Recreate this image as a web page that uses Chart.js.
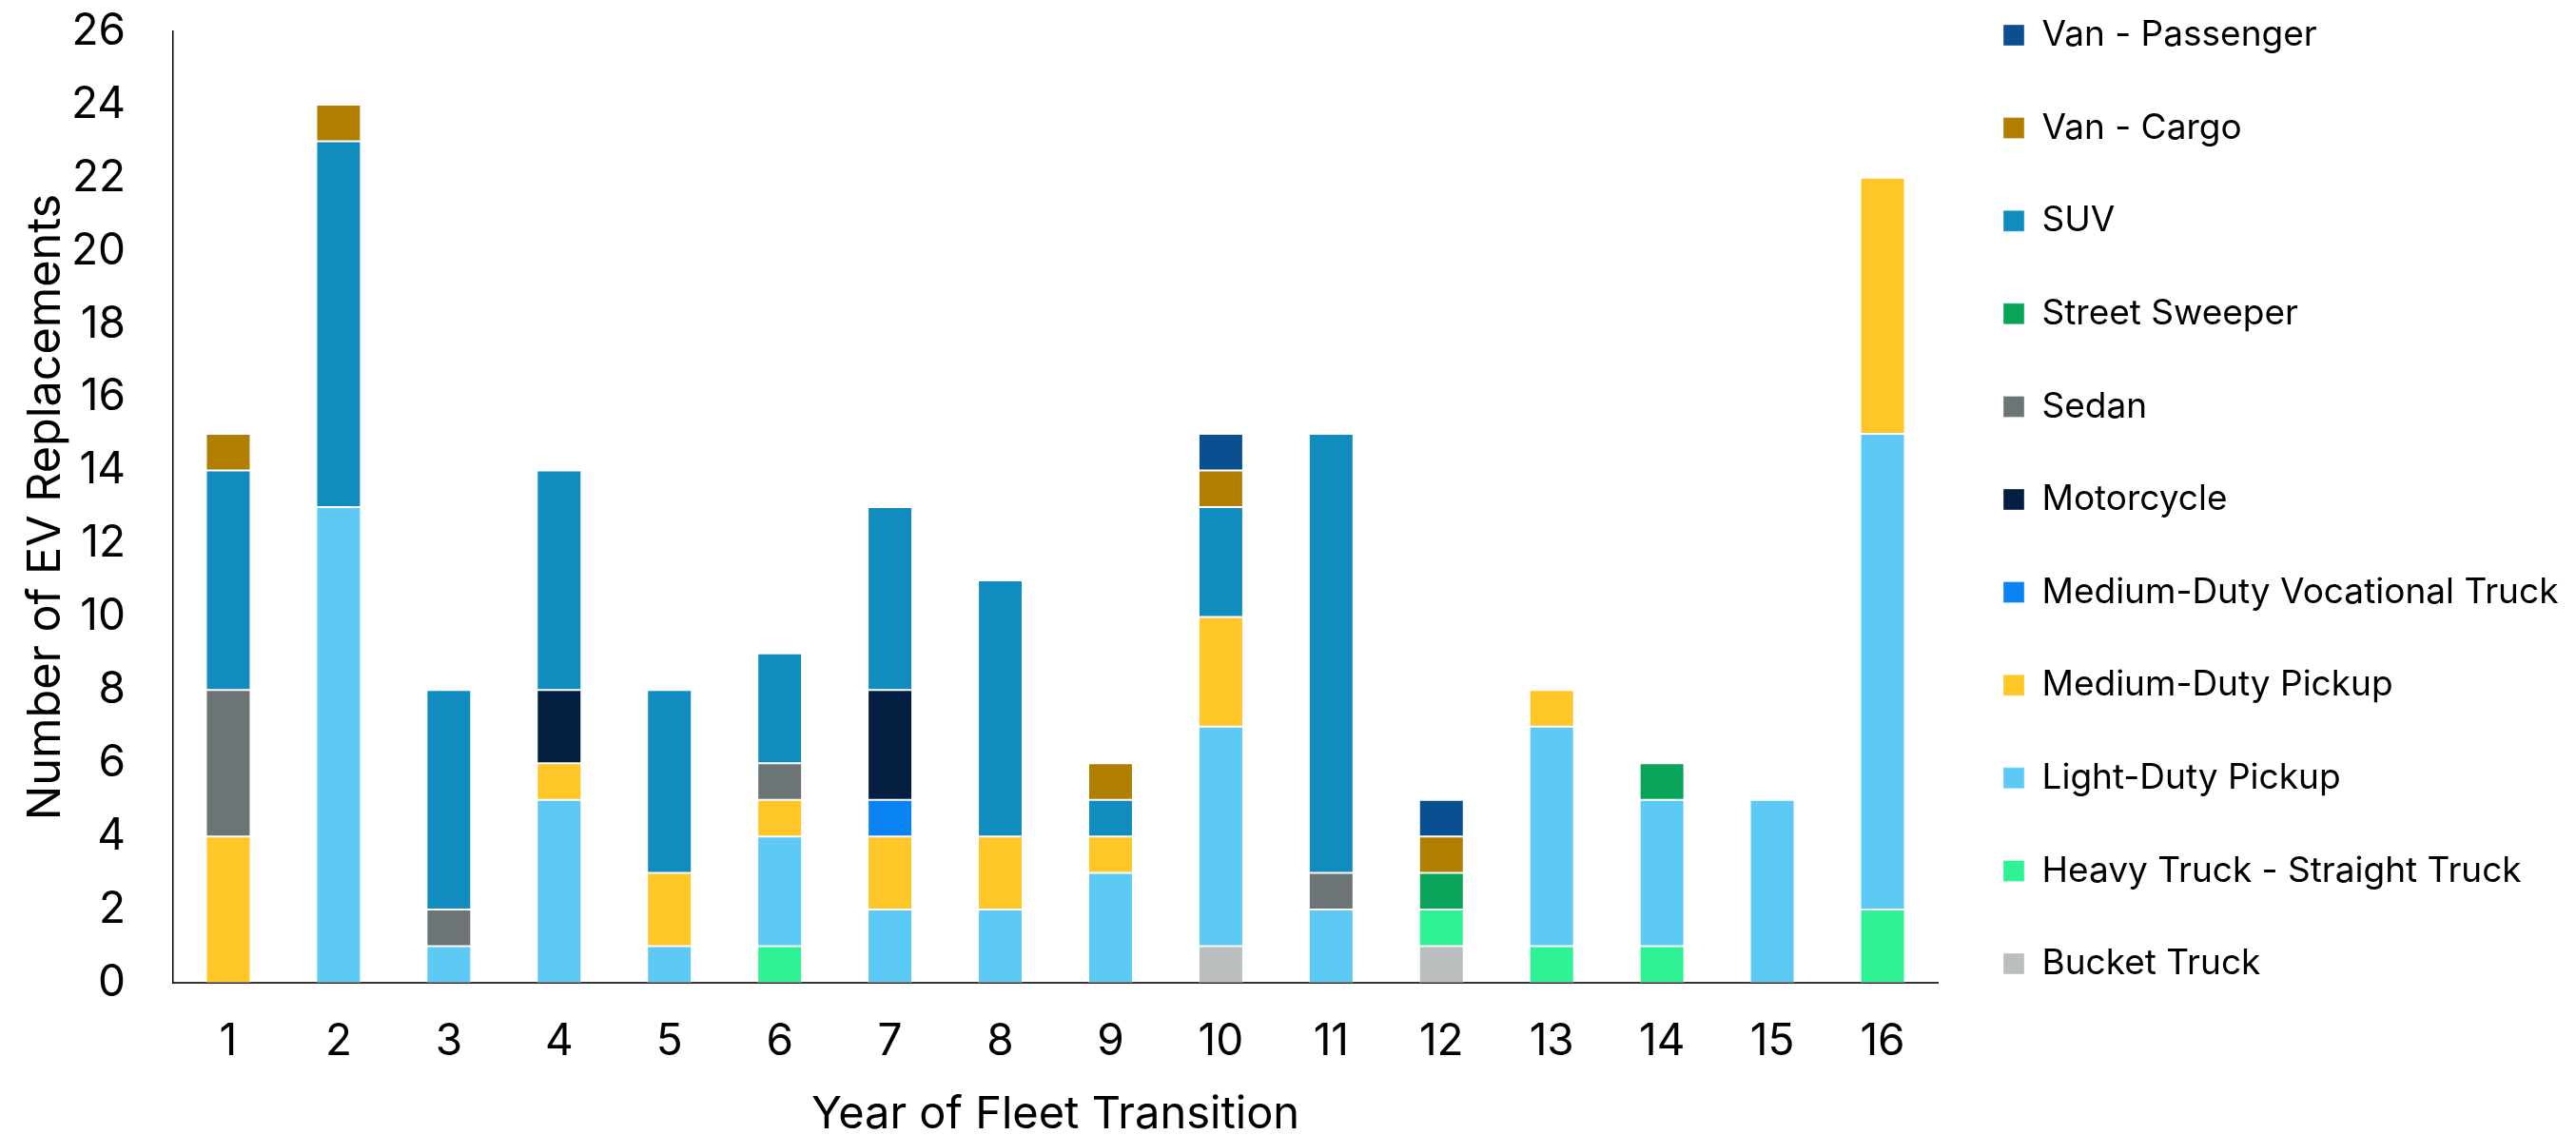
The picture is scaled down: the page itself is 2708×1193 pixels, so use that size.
<!DOCTYPE html>
<html>
<head>
<meta charset="utf-8">
<title>EV Replacements by Year of Fleet Transition</title>
<script src="https://cdn.jsdelivr.net/npm/chart.js@4.4.1/dist/chart.umd.min.js"></script>
<style>
  body { margin: 0; background: #fff; }
</style>
</head>
<body>
<canvas id="evChart" width="2708" height="1193"></canvas>
<script>
const years = ['1', '2', '3', '4', '5', '6', '7', '8', '9', '10', '11', '12', '13', '14', '15', '16'];

// vehicles replaced per year, one array per vehicle type (stacked bottom to top)
const bucketTruck      = [0, 0, 0, 0, 0, 0, 0, 0, 0, 1, 0, 1, 0, 0, 0, 0];
const heavyTruck       = [0, 0, 0, 0, 0, 1, 0, 0, 0, 0, 0, 1, 1, 1, 0, 2];
const lightDutyPickup  = [0, 13, 1, 5, 1, 3, 2, 2, 3, 6, 2, 0, 6, 4, 5, 13];
const mediumDutyPickup = [4, 0, 0, 1, 2, 1, 2, 2, 1, 3, 0, 0, 1, 0, 0, 7];
const vocationalTruck  = [0, 0, 0, 0, 0, 0, 1, 0, 0, 0, 0, 0, 0, 0, 0, 0];
const motorcycle       = [0, 0, 0, 2, 0, 0, 3, 0, 0, 0, 0, 0, 0, 0, 0, 0];
const sedan            = [4, 0, 1, 0, 0, 1, 0, 0, 0, 0, 1, 0, 0, 0, 0, 0];
const streetSweeper    = [0, 0, 0, 0, 0, 0, 0, 0, 0, 0, 0, 1, 0, 1, 0, 0];
const suv              = [6, 10, 6, 6, 5, 3, 5, 7, 1, 3, 12, 0, 0, 0, 0, 0];
const vanCargo         = [1, 1, 0, 0, 0, 0, 0, 0, 1, 1, 0, 1, 0, 0, 0, 0];
const vanPassenger     = [0, 0, 0, 0, 0, 0, 0, 0, 0, 1, 0, 1, 0, 0, 0, 0];

const yMax = 26;
const yStep = 2;
const legendWidth = 671;

function series(label, data, color) {
    return {
        label: label,
        data: data,
        backgroundColor: color,
        borderColor: 'rgba(255, 255, 255, 0.35)',
        borderWidth: 1,
        borderSkipped: false
    };
}

// legend sits in a fixed-width column to the right of the plot
const legendPlacement = {
    id: 'legendPlacement',
    beforeLayout(chart) {
        const legend = chart.legend;
        if (legend && !legend.fixedFit) {
            const fit = legend.fit;
            legend.fit = function () {
                fit.call(this);
                this.width = legendWidth;
            };
            legend.fixedFit = true;
        }
    },
    afterLayout(chart) {
        const legend = chart.legend;
        const pad = legend.options.labels.padding;
        legend.left = chart.chartArea.right + 69 - pad;
        legend.right = chart.width;
        legend.top = 18.5 - pad;
        legend.bottom = chart.height;
    }
};

Chart.defaults.font.family = 'Inter, "DejaVu Sans", sans-serif';
Chart.defaults.color = '#000';

const ctx = document.getElementById('evChart').getContext('2d');
const evChart = new Chart(ctx, {
    type: 'bar',
    data: {
        labels: years,
        datasets: [
            series('Bucket Truck', bucketTruck, '#BBBEBF'),
            series('Heavy Truck - Straight Truck', heavyTruck, '#2FF294'),
            series('Light-Duty Pickup', lightDutyPickup, '#5DC9F5'),
            series('Medium-Duty Pickup', mediumDutyPickup, '#FFC628'),
            series('Medium-Duty Vocational Truck', vocationalTruck, '#0A84F2'),
            series('Motorcycle', motorcycle, '#041E42'),
            series('Sedan', sedan, '#6C7475'),
            series('Street Sweeper', streetSweeper, '#0AA35A'),
            series('SUV', suv, '#108CBF'),
            series('Van - Cargo', vanCargo, '#B07F00'),
            series('Van - Passenger', vanPassenger, '#0A4F8F')
        ]
    },
    options: {
        responsive: false,
        animation: false,
        layout: {
            padding: { top: 33, left: 0, right: 0, bottom: 0 }
        },
        datasets: {
            bar: {
                categoryPercentage: 1,
                barPercentage: 0.405
            }
        },
        scales: {
            x: {
                stacked: true,
                grid: { display: false, drawTicks: false },
                border: { display: true, color: '#333', width: 2 },
                ticks: {
                    font: { size: 46 },
                    padding: 35
                },
                title: {
                    display: true,
                    text: 'Year of Fleet Transition',
                    font: { size: 47, lineHeight: 0.8 },
                    padding: { top: 0, bottom: 2 }
                },
                afterFit(scale) {
                    scale.height = 160;
                }
            },
            y: {
                stacked: true,
                min: 0,
                max: yMax,
                grid: { display: false, drawTicks: false },
                border: { display: true, color: '#000', width: 1.5 },
                ticks: {
                    stepSize: yStep,
                    font: { size: 46 },
                    padding: 50
                },
                title: {
                    display: true,
                    text: 'Number of EV Replacements',
                    font: { size: 48.5 },
                    padding: { top: 19, bottom: 0 }
                },
                afterFit(scale) {
                    scale.width = 182;
                    scale.paddingTop = 0;
                    scale.paddingBottom = 0;
                }
            }
        },
        plugins: {
            legend: {
                position: 'right',
                align: 'start',
                reverse: true,
                labels: {
                    boxWidth: 22,
                    boxHeight: 22,
                    padding: 60.6,
                    font: { size: 37 },
                    color: '#000'
                }
            },
            tooltip: { enabled: false }
        }
    },
    plugins: [legendPlacement]
});
</script>
</body>
</html>
